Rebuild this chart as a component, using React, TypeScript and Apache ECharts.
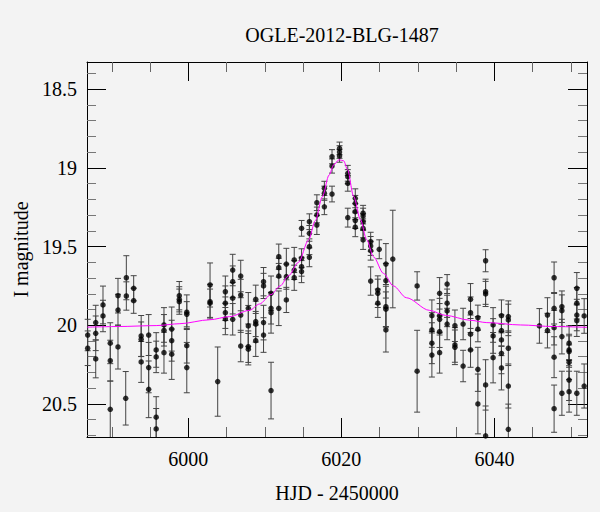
import React, { useEffect, useRef } from "react";
import * as echarts from "echarts";

// Photometry (OGLE I band): HJD - 2450000, I magnitude, 1-sigma error
const hjd = [
  5986.85, 5986.85, 5987.9, 5987.9, 5987.9, 5988.85, 5988.85, 5989.8, 5989.8, 5989.8,
  5990.81, 5990.81, 5990.81, 5991.82, 5991.9, 5991.9, 5992.86, 5992.86, 5993.84, 5993.84,
  5993.84, 5994.82, 5994.82, 5994.82, 5995.8, 5995.8, 5995.8, 5995.8, 5996.82, 5996.82,
  5996.82, 5997.83, 5997.83, 5997.83, 5998.82, 5998.82, 5998.82, 5999.8, 5999.8, 5999.8,
  5999.8, 6002.84, 6002.84, 6002.84, 6003.84, 6004.84, 6004.84, 6004.84, 6004.84, 6005.8,
  6005.8, 6005.8, 6005.8, 6006.85, 6006.85, 6006.85, 6006.85, 6007.84, 6007.84, 6007.84,
  6007.84, 6008.81, 6008.81, 6008.81, 6008.81, 6009.83, 6009.83, 6009.83, 6009.83, 6010.81,
  6010.81, 6010.81, 6010.81, 6011.82, 6011.82, 6011.82, 6011.82, 6012.81, 6012.81, 6012.81,
  6013.84, 6013.84, 6013.84, 6014.8, 6014.8, 6014.8, 6014.8, 6015.82, 6015.82, 6015.82,
  6015.82, 6016.8, 6016.8, 6016.8, 6017.78, 6017.78, 6017.78, 6018.78, 6018.78, 6018.78,
  6019.76, 6019.76, 6019.76, 6020.84, 6020.84, 6020.84, 6020.84, 6021.82, 6021.82, 6021.82,
  6021.82, 6021.82, 6022.84, 6022.84, 6022.84, 6022.84, 6022.84, 6023.83, 6023.83, 6023.83,
  6023.83, 6024.95, 6024.76, 6024.76, 6024.76, 6025.82, 6025.82, 6025.82, 6025.82, 6025.82,
  6026.72, 6029.9, 6029.9, 6031.83, 6031.83, 6031.83, 6031.83, 6032.84, 6032.84, 6032.84,
  6032.84, 6032.84, 6033.82, 6033.82, 6033.82, 6033.82, 6034.84, 6034.84, 6034.84, 6035.91,
  6035.91, 6036.88, 6036.88, 6036.88, 6036.88, 6037.84, 6037.84, 6037.84, 6037.84, 6038.85,
  6038.85, 6038.85, 6038.85, 6038.85, 6039.83, 6039.83, 6039.83, 6040.92, 6040.92, 6040.92,
  6040.92, 6040.92, 6041.82, 6041.82, 6041.82, 6041.82, 6041.82, 6045.88, 6046.93, 6046.93,
  6047.8, 6047.8, 6047.8, 6047.8, 6047.8, 6048.82, 6048.82, 6048.82, 6048.82, 6049.76,
  6049.76, 6049.76, 6049.76, 6049.76, 6049.76, 6050.77, 6050.77, 6050.77, 6050.77, 6050.77,
  6051.73, 6051.73,
];

const mag = [
  20.062, 20.146, 19.983, 20.051, 20.214, 19.871, 19.941, 20.114, 20.225, 20.534,
  19.812, 19.903, 20.138, 20.464, 19.698, 19.814, 19.765, 19.844, 20.068, 20.089,
  20.233, 20.062, 20.269, 20.407, 20.157, 20.201, 20.584, 20.659, 19.998, 20.032,
  20.174, 20.024, 20.098, 20.184, 19.812, 19.835, 19.85, 19.917, 19.93, 20.13,
  20.269, 19.744, 19.85, 19.86, 20.358, 19.787, 19.86, 19.92, 19.96, 19.649,
  19.723, 19.828, 19.962, 19.687, 19.808, 19.935, 20.132, 19.892, 20.004, 20.136,
  20.152, 19.835, 19.977, 19.992, 20.098, 19.723, 19.75, 19.983, 20.062, 19.797,
  19.892, 19.92, 20.415, 19.564, 19.634, 19.687, 19.892, 19.611, 19.691, 19.839,
  19.585, 19.649, 19.698, 19.384, 19.574, 19.628, 19.659, 19.342, 19.416, 19.501,
  19.568, 19.221, 19.299, 19.363, 19.13, 19.161, 19.247, 18.929, 18.988, 19.166,
  18.876, 18.899, 18.924, 19.034, 19.056, 19.098, 19.316, 19.193, 19.225, 19.278,
  19.335, 19.377, 19.288, 19.306, 19.342, 19.384, 19.458, 19.469, 19.496, 19.526,
  19.719, 19.517, 19.776, 19.797, 19.86, 19.611, 19.717, 19.882, 19.898, 20.03,
  19.579, 19.75, 20.292, 19.939, 20.03, 20.114, 20.189, 19.797, 19.939, 19.962,
  20.041, 20.174, 19.738, 19.86, 19.909, 19.992, 20.003, 20.125, 20.14, 19.992,
  20.259, 19.835, 19.92, 20.057, 20.157, 19.952, 20.025, 20.28, 20.5, 19.59,
  19.787, 19.801, 20.379, 20.703, 19.998, 20.068, 20.206, 19.939, 20.034, 20.093,
  20.178, 20.271, 19.945, 19.966, 20.146, 20.386, 20.661, 20.004, 19.935, 20.034,
  19.698, 19.892, 20.015, 20.203, 20.53, 19.882, 19.907, 20.072, 20.432, 20.114,
  20.157, 20.167, 20.235, 20.348, 20.422, 19.765, 19.86, 19.935, 19.971, 20.432,
  19.941, 20.386,
];

const magErr = [
  0.1, 0.11, 0.11, 0.11, 0.12, 0.12, 0.1, 0.13, 0.13, 0.18,
  0.11, 0.1, 0.14, 0.17, 0.14, 0.09, 0.08, 0.08, 0.13, 0.11,
  0.13, 0.13, 0.16, 0.18, 0.11, 0.1, 0.13, 0.13, 0.11, 0.1,
  0.13, 0.14, 0.13, 0.16, 0.09, 0.08, 0.08, 0.11, 0.08, 0.11,
  0.16, 0.14, 0.11, 0.09, 0.22, 0.1, 0.11, 0.1, 0.1, 0.1,
  0.1, 0.1, 0.1, 0.1, 0.1, 0.11, 0.1, 0.1, 0.13, 0.1,
  0.1, 0.09, 0.13, 0.08, 0.1, 0.09, 0.08, 0.11, 0.11, 0.11,
  0.1, 0.13, 0.18, 0.08, 0.06, 0.08, 0.11, 0.1, 0.08, 0.08,
  0.08, 0.06, 0.08, 0.05, 0.06, 0.06, 0.07, 0.05, 0.05, 0.05,
  0.06, 0.05, 0.05, 0.06, 0.045, 0.045, 0.05, 0.045, 0.045, 0.05,
  0.04, 0.04, 0.04, 0.05, 0.045, 0.05, 0.06, 0.06, 0.05, 0.05,
  0.05, 0.06, 0.05, 0.05, 0.05, 0.06, 0.06, 0.06, 0.06, 0.06,
  0.09, 0.06, 0.09, 0.09, 0.09, 0.13, 0.11, 0.13, 0.11, 0.14,
  0.31, 0.09, 0.26, 0.1, 0.11, 0.13, 0.14, 0.1, 0.11, 0.1,
  0.1, 0.13, 0.06, 0.09, 0.1, 0.1, 0.1, 0.11, 0.11, 0.1,
  0.1, 0.1, 0.1, 0.1, 0.11, 0.08, 0.08, 0.14, 0.19, 0.07,
  0.08, 0.08, 0.16, 0.19, 0.11, 0.11, 0.16, 0.1, 0.1, 0.1,
  0.13, 0.14, 0.1, 0.1, 0.11, 0.14, 0.16, 0.11, 0.11, 0.11,
  0.1, 0.1, 0.11, 0.13, 0.15, 0.1, 0.1, 0.11, 0.14, 0.11,
  0.1, 0.1, 0.11, 0.13, 0.13, 0.1, 0.1, 0.1, 0.1, 0.14,
  0.11, 0.14,
];

// Microlensing model curve
const modelHjd = [
  5986.8, 5990.8, 5995.8, 5998.9, 6002.8, 6005.4, 6008.0, 6009.3, 6010.8, 6012.0,
  6013.1, 6014.4, 6015.7, 6016.6, 6017.5, 6018.4, 6019.0, 6019.7, 6020.3, 6020.8,
  6021.6, 6022.5, 6023.3, 6024.2, 6025.5, 6026.8, 6028.5, 6031.5, 6033.6, 6036.8,
  6039.0, 6043.4, 6047.7, 6052.1,
];
const modelMag = [
  20.012, 20.008, 20.002, 19.99, 19.965, 19.945, 19.905, 19.865, 19.805, 19.75,
  19.685, 19.6, 19.46, 19.335, 19.185, 19.045, 18.98, 18.948, 18.955, 19.01,
  19.18, 19.33, 19.455, 19.565, 19.67, 19.75, 19.825, 19.905, 19.937, 19.968,
  19.983, 19.998, 20.008, 20.013,
];

const xMajorTicks = [6000, 6020, 6040];
const xMinorTicks = [5990, 5995, 6005, 6010, 6015, 6025, 6030, 6035, 6045, 6050];
const yMajorTicks = [18.5, 19, 19.5, 20, 20.5];
const yMinorTicks = [
  18.4, 18.6, 18.7, 18.8, 18.9, 19.1, 19.2, 19.3, 19.4, 19.6, 19.7, 19.8, 19.9,
  20.1, 20.2, 20.3, 20.4, 20.6, 20.7,
];

const titleText = "OGLE-2012-BLG-1487";
const xName = "HJD - 2450000";
const yName = "I magnitude";

const FONT = "Liberation Serif";
const X_MIN = 5986.76;
const X_MAX = 6052.1;
const Y_MIN = 18.327;
const Y_MAX = 20.71;

function makeX(position: string, ticks: number[], len: number, color: string, major: boolean, withLabel: boolean) {
  return {
    type: "value",
    min: X_MIN,
    max: X_MAX,
    position,
    splitLine: { show: false },
    axisLine: { show: major, lineStyle: { color: "#000", width: 1 } },
    axisTick: { show: true, inside: true, length: len, customValues: ticks, lineStyle: { color, width: 1 } },
    axisLabel: withLabel
      ? {
          show: true,
          customValues: ticks,
          formatter: (v: number) => String(v),
          color: "#000",
          fontFamily: FONT,
          fontSize: 20,
          margin: 12,
        }
      : { show: false },
  };
}

function makeY(position: string, ticks: number[], len: number, color: string, major: boolean, withLabel: boolean) {
  return {
    type: "value",
    inverse: true,
    min: Y_MIN,
    max: Y_MAX,
    position,
    splitLine: { show: false },
    axisLine: { show: major, lineStyle: { color: "#000", width: 1 } },
    axisTick: { show: true, inside: true, length: len, customValues: ticks, lineStyle: { color, width: 1 } },
    axisLabel: withLabel
      ? {
          show: true,
          customValues: ticks,
          formatter: (v: number) => String(v),
          color: "#000",
          fontFamily: FONT,
          fontSize: 20,
          margin: 10,
        }
      : { show: false },
  };
}

export default function App() {
  const ref = useRef<HTMLDivElement>(null);

  useEffect(() => {
    if (!ref.current) return;
    const chart = echarts.init(ref.current, null, { renderer: "svg" });

    const points = hjd.map((x, i) => [x, mag[i]]);
    const bars = hjd.map((x, i) => [x, mag[i] - magErr[i], mag[i] + magErr[i]]);
    const model = modelHjd.map((x, i) => [x, modelMag[i]]);

    const xMain: any = makeX("bottom", xMajorTicks, 19, "#000", true, true);
    xMain.name = xName;
    xMain.nameLocation = "middle";
    xMain.nameGap = 46;
    xMain.nameTextStyle = { color: "#000", fontFamily: FONT, fontSize: 20 };

    const yMain: any = makeY("left", yMajorTicks, 19, "#000", true, true);
    yMain.name = yName;
    yMain.nameLocation = "middle";
    yMain.nameGap = 56;
    yMain.nameTextStyle = { color: "#000", fontFamily: FONT, fontSize: 20 };

    chart.setOption({
      animation: false,
      backgroundColor: "#f3f3f3",
      title: {
        text: titleText,
        left: 337,
        top: 20,
        textAlign: "center",
        textStyle: { color: "#000", fontFamily: FONT, fontSize: 20, fontWeight: "normal" },
      },
      grid: { left: 87, right: 13, top: 62, bottom: 75, containLabel: false },
      xAxis: [
        xMain,
        makeX("bottom", xMinorTicks, 10, "#666", false, false),
        makeX("top", xMajorTicks, 19, "#000", true, false),
        makeX("top", xMinorTicks, 10, "#666", false, false),
      ],
      yAxis: [
        yMain,
        makeY("left", yMinorTicks, 9, "#777", false, false),
        makeY("right", yMajorTicks, 19, "#000", true, false),
        makeY("right", yMinorTicks, 9, "#777", false, false),
      ],
      series: [
        {
          type: "custom",
          xAxisIndex: 0,
          yAxisIndex: 0,
          data: bars,
          encode: { x: 0, y: [1, 2] },
          z: 2,
          renderItem: (params: any, api: any) => {
            const cs = params.coordSys;
            const x = api.value(0);
            const a = api.coord([x, api.value(1)]);
            const b = api.coord([x, api.value(2)]);
            const top = cs.y;
            const bottom = cs.y + cs.height;
            const y1 = Math.max(top, Math.min(a[1], b[1]));
            const y2 = Math.min(bottom, Math.max(a[1], b[1]));
            const w = 3;
            const style = { stroke: "#444", lineWidth: 1 };
            const children: any[] = [
              { type: "line", shape: { x1: a[0], y1, x2: a[0], y2 }, style },
            ];
            const ya = Math.min(a[1], b[1]);
            const yb = Math.max(a[1], b[1]);
            if (ya >= top) children.push({ type: "line", shape: { x1: a[0] - w, y1: ya, x2: a[0] + w, y2: ya }, style });
            if (yb <= bottom) children.push({ type: "line", shape: { x1: a[0] - w, y1: yb, x2: a[0] + w, y2: yb }, style });
            return { type: "group", children };
          },
        },
        {
          type: "scatter",
          xAxisIndex: 0,
          yAxisIndex: 0,
          data: points,
          symbol: "circle",
          symbolSize: 5.5,
          itemStyle: { color: "#000" },
          z: 3,
        },
        {
          type: "line",
          xAxisIndex: 0,
          yAxisIndex: 0,
          data: model,
          showSymbol: false,
          symbol: "none",
          smooth: 0.3,
          smoothMonotone: "x",
          lineStyle: { color: "#ff00ff", width: 1 },
          z: 4,
          clip: true,
        },
      ],
    });

    return () => chart.dispose();
  }, []);

  return (
    <div
      ref={ref}
      style={{ position: "fixed", left: 0, top: 0, width: 600, height: 512 }}
    />
  );
}
